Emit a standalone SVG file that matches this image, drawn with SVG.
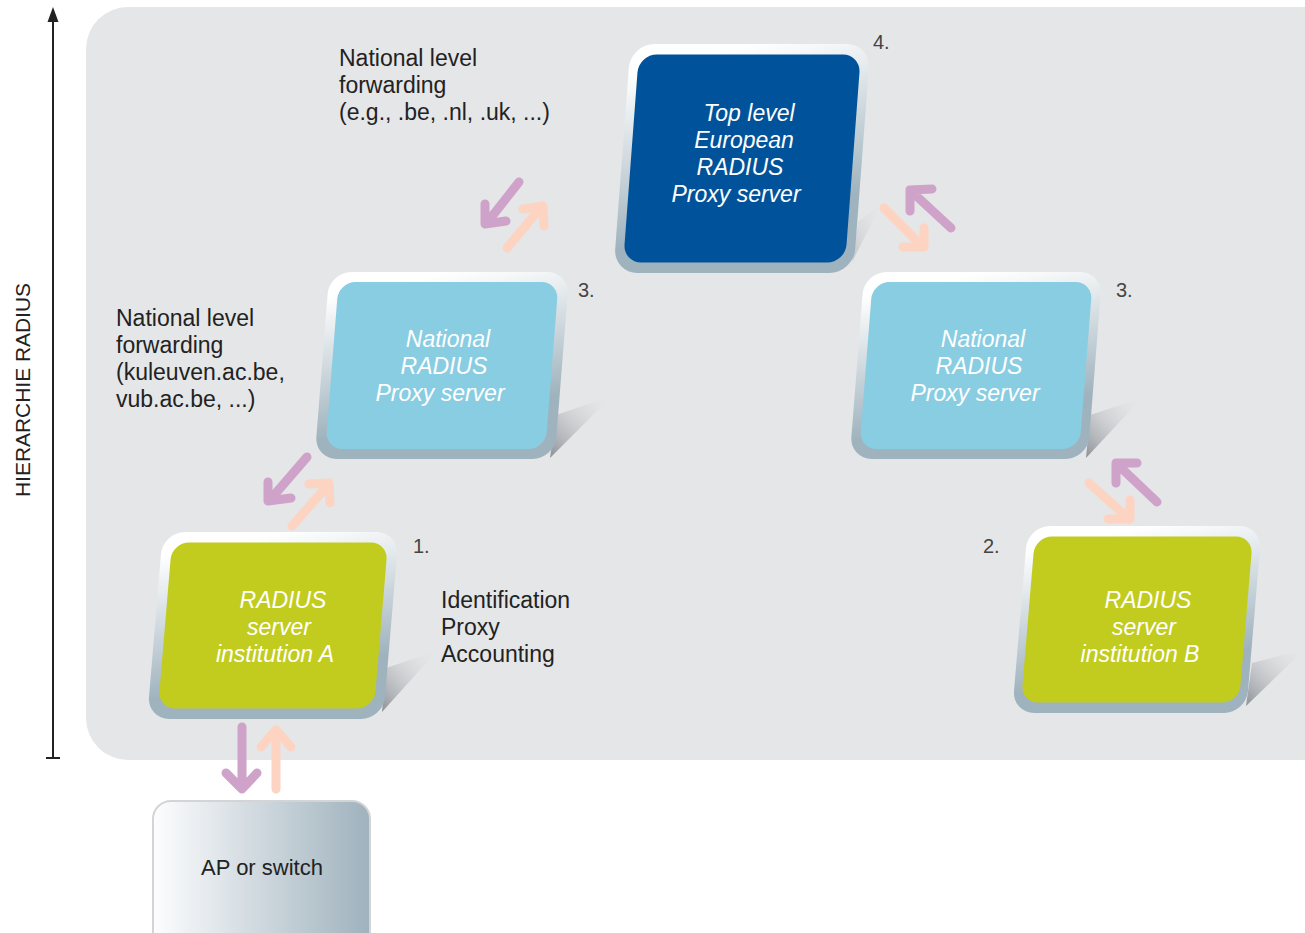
<svg xmlns="http://www.w3.org/2000/svg" width="1305" height="933" viewBox="0 0 1305 933">
<style>
.lbl{font-family:"Liberation Sans",Arial,sans-serif;font-size:23px;fill:#222}
.num{font-family:"Liberation Sans",Arial,sans-serif;font-size:20px;fill:#444}
.nt{font-family:"Liberation Sans",Arial,sans-serif;font-size:23px;font-style:italic;fill:#fff;text-anchor:middle}
.up{fill:none;stroke:#cfa2c9;stroke-width:9;stroke-linecap:round;stroke-linejoin:round}
.dn{fill:none;stroke:#fdd4c2;stroke-width:9;stroke-linecap:round;stroke-linejoin:round}
.axis{stroke:#222;stroke-width:2;fill:none}
</style>
<defs>
<linearGradient id="frame" x1="0" y1="0" x2="0.25" y2="1">
<stop offset="0.12" stop-color="#ffffff"/>
<stop offset="0.85" stop-color="#9fb3be"/>
</linearGradient>
<linearGradient id="shadow" x1="0" y1="1" x2="1" y2="0">
<stop offset="0" stop-color="#6f757b" stop-opacity="0.75"/>
<stop offset="1" stop-color="#e5e6e8" stop-opacity="0"/>
</linearGradient>
<linearGradient id="apfill" x1="0" y1="0" x2="1" y2="0">
<stop offset="0" stop-color="#fdfdfe"/>
<stop offset="1" stop-color="#9fb2bd"/>
</linearGradient>
</defs>
<rect x="86" y="7" width="1260" height="753" rx="42" fill="#e5e6e8"/>
<g id="axis">
<line class="axis" x1="53" y1="20" x2="53" y2="758"/>
<line class="axis" x1="46" y1="758" x2="60" y2="758"/>
<polygon points="53,7 47.5,22 58.5,22" fill="#222"/>
<text transform="translate(30,390) rotate(-90)" text-anchor="middle" font-family="Liberation Sans Narrow, Liberation Sans, sans-serif" font-size="20" fill="#222" textLength="214" lengthAdjust="spacingAndGlyphs">HIERARCHIE RADIUS</text>
</g>
<g id="shadows">
<polygon points="858,222 882,203 852,262" fill="url(#shadow)" opacity="0.4"/>
<polygon points="556,415 612,396 550,458" fill="url(#shadow)"/>
<polygon points="1090,415 1142,398 1086,458" fill="url(#shadow)"/>
<polygon points="386,668 437,651 382,712" fill="url(#shadow)"/>
<polygon points="1252,663 1305,649 1246,706" fill="url(#shadow)"/>
</g>
<g id="node-top">
<g transform="translate(742,158.5) skewX(-4.3)">
<rect x="-120" y="-114.5" width="240" height="229" rx="24" fill="url(#frame)"/>
<rect x="-111" y="-104" width="222" height="208" rx="18" fill="#00539a"/>
</g>
<text class="nt" x="749" y="121">Top level</text>
<text class="nt" x="744" y="148">European</text>
<text class="nt" x="740" y="175">RADIUS</text>
<text class="nt" x="736" y="202">Proxy server</text>
<text class="num" x="873" y="49">4.</text>
</g>
<g id="node-national-left">
<g transform="translate(442,365.5) skewX(-4.5)">
<rect x="-120" y="-93.5" width="240" height="187" rx="22" fill="url(#frame)"/>
<rect x="-110" y="-83.5" width="220" height="167" rx="17" fill="#89cde2"/>
</g>
<text class="nt" x="448" y="347">National</text>
<text class="nt" x="444" y="374">RADIUS</text>
<text class="nt" x="440" y="401">Proxy server</text>
<text class="num" x="578" y="297">3.</text>
</g>
<g id="node-national-right">
<g transform="translate(976,365.5) skewX(-4.5)">
<rect x="-119" y="-93.5" width="238" height="187" rx="22" fill="url(#frame)"/>
<rect x="-110" y="-83.5" width="220" height="167" rx="17" fill="#89cde2"/>
</g>
<text class="nt" x="983" y="347">National</text>
<text class="nt" x="979" y="374">RADIUS</text>
<text class="nt" x="975" y="401">Proxy server</text>
<text class="num" x="1116" y="297">3.</text>
</g>
<g id="node-institution-a">
<g transform="translate(273,625.5) skewX(-4.8)">
<rect x="-118" y="-93.5" width="236" height="187" rx="22" fill="url(#frame)"/>
<rect x="-108" y="-83" width="216" height="166" rx="17" fill="#c2cc1f"/>
</g>
<text class="nt" x="283" y="608">RADIUS</text>
<text class="nt" x="279" y="635">server</text>
<text class="nt" x="275" y="662">institution A</text>
<text class="num" x="413" y="553">1.</text>
</g>
<g id="node-institution-b">
<g transform="translate(1137,619.5) skewX(-4.8)">
<rect x="-117" y="-93.5" width="234" height="187" rx="22" fill="url(#frame)"/>
<rect x="-109" y="-83" width="218" height="166" rx="17" fill="#c2cc1f"/>
</g>
<text class="nt" x="1148" y="608">RADIUS</text>
<text class="nt" x="1144" y="635">server</text>
<text class="nt" x="1140" y="662">institution B</text>
<text class="num" x="983" y="553">2.</text>
</g>
<g id="node-ap">
<rect x="153" y="801" width="217" height="150" rx="18" fill="url(#apfill)" stroke="#d2d4d6" stroke-width="2"/>
<text x="262" y="875" text-anchor="middle" font-family="Liberation Sans, Arial, sans-serif" font-size="22" fill="#222">AP or switch</text>
</g>
<g id="labels">
<text class="lbl"><tspan x="339" y="66">National level</tspan><tspan x="339" y="93">forwarding</tspan><tspan x="339" y="120">(e.g., .be, .nl, .uk, ...)</tspan></text>
<text class="lbl"><tspan x="116" y="326">National level</tspan><tspan x="116" y="353">forwarding</tspan><tspan x="116" y="380">(kuleuven.ac.be,</tspan><tspan x="116" y="407">vub.ac.be, ...)</tspan></text>
<text class="lbl"><tspan x="441" y="608">Identification</tspan><tspan x="441" y="635">Proxy</tspan><tspan x="441" y="662">Accounting</tspan></text>
</g>
<g id="connectors">
<path class="up" d="M242,727 L242,789 M226,773 L242,789 L257,773"/>
<path class="dn" d="M276,789 L276,730 M261,747 L276,730 L291,747"/>
<path class="up" d="M307,457 L269,501 M268,482 L268,501 L291,498"/>
<path class="dn" d="M292,526 L329,484 M309,484 L329,483 L330,503"/>
<path class="up" d="M519,182 L486,224 M485,204 L485,224 L506,221"/>
<path class="dn" d="M507,248 L542,206 M523,209 L543,206 L544,226"/>
<path class="up" d="M951,228 L911,191 M932,189 L910,190 L910,211"/>
<path class="dn" d="M884,208 L923,247 M903,247 L924,247 L924,228"/>
<path class="up" d="M1157,502 L1117,464 M1137,463 L1116,463 L1116,483"/>
<path class="dn" d="M1089,483 L1129,519 M1108,519 L1130,519 L1130,500"/>
</g>
</svg>
